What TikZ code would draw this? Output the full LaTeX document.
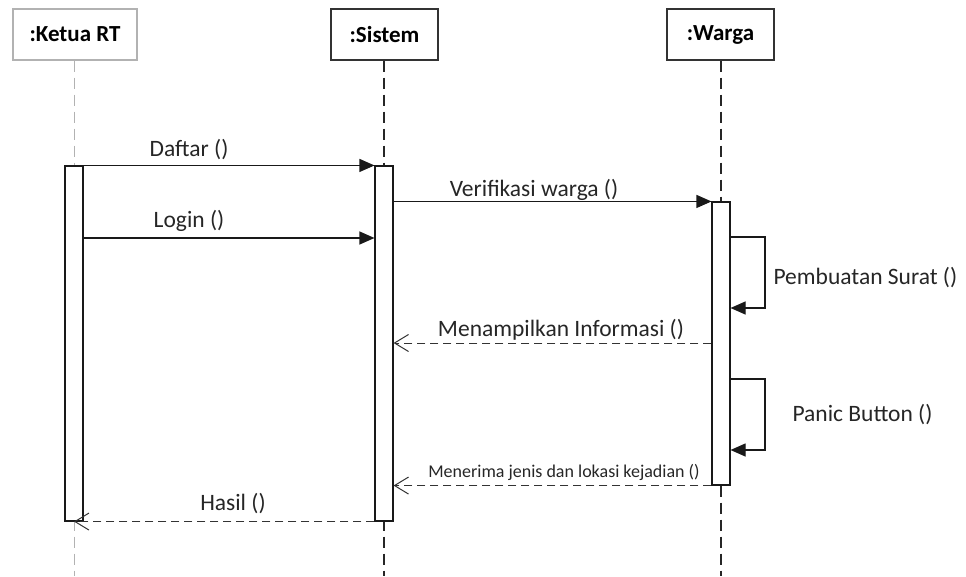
\documentclass[tikz,border=0pt]{standalone}
\usepackage{fontspec}
\setmainfont{Carlito}
\usetikzlibrary{arrows.meta}
\begin{document}
\begin{tikzpicture}[x=1pt,y=-1pt,line width=1.1pt,line join=miter,
    obj/.style={draw=black!80,fill=white,line width=1.3pt,minimum width=107pt,minimum height=51pt,inner sep=0pt,font=\bfseries\fontsize{23}{26}\selectfont},
    act/.style={draw=black!90,fill=white,minimum width=18pt,inner sep=0pt},
    life/.style={draw=black!85,dash pattern=on 11pt off 6pt},
    msg/.style={draw=black!90,-{Triangle[length=15pt,width=13pt]}},
    ret/.style={draw=black!80,line width=1pt,dash pattern=on 8pt off 5pt,-{Straight Barb[length=14pt,width=17pt]}},
    lbl/.style={font=\fontsize{23.5}{26}\selectfont,text=black!85,inner sep=0pt}]
\useasboundingbox (0,0) rectangle (966,576);
\node[obj,draw=black!30,minimum width=124pt] (ketua) at (75,34.5) {:Ketua RT};
\node[obj] (sistem) at (384.5,34.5) {:Sistem};
\node[obj] (warga) at (720.5,34.5) {:Warga};
\coordinate (ketuaEnd) at (74,576);
\coordinate (sistemEnd) at (384,576);
\coordinate (wargaEnd) at (721,576);
\draw[life,draw=black!30,line width=1pt] (ketua.south -| ketuaEnd) -- (ketuaEnd);
\draw[life] (sistem.south -| sistemEnd) -- (sistemEnd);
\draw[life] (warga.south -| wargaEnd) -- (wargaEnd);
\node[act,minimum height=355pt] (ketuaAct) at (74,343.5) {};
\node[act,minimum height=355pt] (sistemAct) at (384,343.5) {};
\node[act,minimum height=283pt] (wargaAct) at (721,343.5) {};
\coordinate (login) at (0,238);
\coordinate (suratA) at (765,237);
\coordinate (suratB) at (765,308);
\coordinate (info) at (0,343);
\coordinate (panicA) at (765,379);
\coordinate (panicB) at (765,450);
\draw[msg] (ketuaAct.north east) -- (sistemAct.north west);
\draw[msg] (ketuaAct.east |- login) -- (sistemAct.west |- login);
\draw[msg] (sistemAct.east |- wargaAct.north) -- (wargaAct.north west);
\draw[msg] (wargaAct.east |- suratA) -- (suratA) -- (suratB) -- (wargaAct.east |- suratB);
\draw[ret] (wargaAct.west |- info) -- (sistemAct.east |- info);
\draw[msg] (wargaAct.east |- panicA) -- (panicA) -- (panicB) -- (wargaAct.east |- panicB);
\draw[ret] (wargaAct.south west) -- (sistemAct.east |- wargaAct.south);
\draw[ret] (sistemAct.south west) -- (ketuaAct.south);
\node[lbl] (daftarLbl) at (189,150) {Daftar ()};
\node[lbl] (loginLbl) at (189,221) {Login ()};
\node[lbl] (verifLbl) at (534,190) {Verifikasi warga ()};
\node[lbl,anchor=west] (suratLbl) at (773,278) {Pembuatan Surat ()};
\node[lbl] (infoLbl) at (561,330) {Menampilkan Informasi ()};
\node[lbl,anchor=west] (panicLbl) at (792,415) {Panic Button ()};
\node[lbl,font=\fontsize{18}{21}\selectfont] (terimaLbl) at (564,472) {Menerima jenis dan lokasi kejadian ()};
\node[lbl] (hasilLbl) at (233,504) {Hasil ()};
\end{tikzpicture}
\end{document}
